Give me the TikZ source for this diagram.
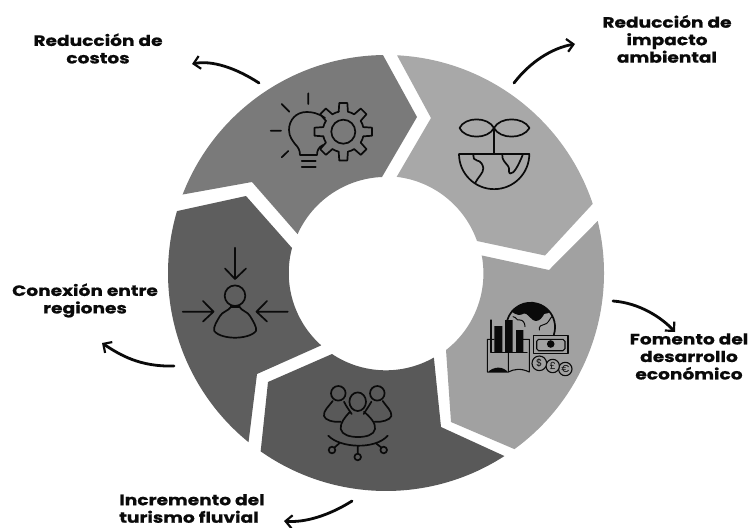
\documentclass[tikz,border=0pt]{standalone}
\usepackage{fontspec}
\setmainfont{Poppins}
\newfontfamily\lblfont{Poppins}[BoldFeatures={FakeStretch=1.24,FakeBold=0.6}]
\usetikzlibrary{arrows.meta}
\definecolor{segcost}{gray}{0.48}
\definecolor{segenv}{gray}{0.66}
\definecolor{segeco}{gray}{0.63}
\definecolor{segtur}{gray}{0.35}
\definecolor{segcon}{gray}{0.37}
\definecolor{ink}{gray}{0.04}
\tikzset{
  label text/.style={font=\lblfont\fontsize{15}{17.5}\selectfont\bfseries, text=ink, align=center, inner sep=0pt},
  pointer/.style={draw=ink, line width=2.8pt, line cap=round, -{Straight Barb[length=6.5pt,width=13pt,line width=2.2pt]}},
  icon/.style={draw=ink, line width=1.7pt, line cap=round, line join=round},
  coinglyph/.style={font=\fontsize{10}{10}\selectfont, text=ink, inner sep=0pt}
}
\begin{document}
\begin{tikzpicture}[x=1pt,y=1pt,yscale=-1]
\useasboundingbox (0,0) rectangle (751,527);
% ring segments
\fill[segcost] (386,273) ++(201.1:218) arc[start angle=201.1,end angle=269.2,radius=218] -- (417,117) -- (382,177) arc[start angle=267.6,end angle=204.2,radius=97] -- (252,182) -- cycle;
\fill[segenv] (386,273) ++(272.9:218) arc[start angle=272.9,end angle=341.5,radius=218] -- (545,255.5) -- (477,241) arc[start angle=340.6,end angle=276.6,radius=97] -- (431,118) -- cycle;
\fill[segeco] (386,273) ++(346.2:218) arc[start angle=346.2,end angle=413.9,radius=218] -- (451,422) -- (446,350) arc[start angle=52.1,end angle=-10.7,radius=97] -- (549,270) -- cycle;
\fill[segtur] (386,273) ++(57.1:218) arc[start angle=57.1,end angle=125.1,radius=218] -- (268,382) -- (332,354) arc[start angle=123.7,end angle=60.3,radius=97] -- (441,427) -- cycle;
\fill[segcon] (386,273) ++(129.1:218) arc[start angle=129.1,end angle=196.5,radius=218] -- (246,196) -- (292,248) arc[start angle=194.9,end angle=131.7,radius=97] -- (257,374) -- cycle;

% labels
\node[label text] (costos) at (98,48.5) {Reducción de\\costos};
\node[label text] (impacto) at (667,39) {Reducción de\\impacto\\ambiental};
\node[label text] (fomento) at (689,356.5) {Fomento del\\desarrollo\\económico};
\node[label text, align=left] (turismo) at (192,508.5) {Incremento del\\turismo fluvial};
\node[label text] (conexion) at (85,300.5) {Conexión entre\\regiones};

% pointer ends
\coordinate (p1s) at (259,83);   \coordinate (p1e) at (192,64);
\coordinate (p2s) at (514,83);   \coordinate (p2e) at (575,44);
\coordinate (p3s) at (613,301);  \coordinate (p3e) at (675,332);
\coordinate (p4s) at (352,501);  \coordinate (p4e) at (284,521);
\coordinate (p5s) at (174,366);  \coordinate (p5e) at (102,343);
\draw[pointer] (p1s) .. controls (236,68) and (212,60) .. (p1e);
\draw[pointer] (p2s) .. controls (530,62) and (552,48) .. (p2e);
\draw[pointer] (p3s) .. controls (640,303) and (662,318) .. (p3e);
\draw[pointer] (p4s) .. controls (330,515) and (305,523) .. (p4e);
\draw[pointer] (p5s) .. controls (140,367) and (120,355) .. (p5e);

% icon: bulb and gear
\begin{scope}[icon]
\draw (325,118) .. controls (318,113) and (312,112) .. (306.7,112) .. controls (296,112) and (289,120) .. (289,130) .. controls (289,137) and (293,141) .. (295,144) .. controls (298,147) and (300,150) .. (300,155) -- (317,155) .. controls (317,150) and (319,147) .. (323,145);
\draw (301.7,160.7) -- (315.7,160.7) (301.7,167.3) -- (315.7,167.3);
\draw (308.3,93.3) -- (308.3,104) (281.7,104) -- (289.3,111.7) (270.7,130.7) -- (281,130.7) (281.7,157.3) -- (288.3,151);
\begin{scope}[shift={(343.3,131.7)}]
\draw (0,0) circle[radius=12];
\foreach \a in {0,45,...,315}{
  \draw (\a-13:20.5) -- (\a-8:29) -- (\a+8:29) -- (\a+13:20.5) arc[start angle=\a+13,end angle=\a+32,radius=20.5];
}
\end{scope}
\end{scope}

% icon: sprout on half globe
\begin{scope}[icon]
\draw (494,128) .. controls (488,116.5) and (465,116.5) .. (459.5,128) .. controls (465,139.5) and (488,139.5) .. (494,128);
\draw (494,128) .. controls (500,116.5) and (523,116.5) .. (529.5,128) .. controls (523,139.5) and (500,139.5) .. (494,128);
\draw (494,128) -- (494,154);
\draw (459,154) -- (529.3,154) arc[start angle=0,end angle=180,radius=35.15];
\draw (473.3,155) .. controls (473,158) and (474,160) .. (477,160.5) .. controls (481,161) and (483,165) .. (483.3,168.3) .. controls (483.5,173) and (478,177) .. (475,183.3);
\draw (502.3,155) .. controls (502,160) and (505,162) .. (508,166) .. controls (510,168) and (508,173) .. (510,173.5) .. controls (514,174) and (518,166) .. (522.7,155);
\end{scope}

% icon: economy
\begin{scope}[icon]
\draw (507.3,320) arc[start angle=197,end angle=378,radius=24.4];
\fill[ink] (511.7,311.7) .. controls (518,304) and (527,303) .. (532,303) .. controls (540,303) and (546,307) .. (550,312) .. controls (546,315) and (544,312) .. (543,316) .. controls (540,321) and (536,322) .. (533,320) .. controls (529,317) and (527,313) .. (524,313.5) .. controls (520,316) and (516,315) .. (511.7,311.7) -- cycle;
\draw[line width=1pt] (513,316.7) .. controls (517,317) and (516,321) .. (520,320) .. controls (523,320) and (525,323) .. (525,326.7);
\draw[line width=1pt] (539.3,330) .. controls (539,326) and (541,325) .. (544,324.5) .. controls (548,324) and (549,320) .. (551.7,316.7);
\fill[ink] (494.3,326) rectangle (502.3,352.7) (505,320) rectangle (512.7,352.7) (516,330) rectangle (523.3,352.7);
\draw[line width=1.1pt] (491,320) -- (491,352.7) -- (527,352.7);
\draw[line width=1.1pt] (494,339.3) -- (487.3,339.3) -- (487.3,372) (508.3,352.7) -- (508.3,372) (523.3,339.3) -- (529.3,339.3) -- (529.3,372) .. controls (521,368) and (514,369) .. (508.3,372);
\fill[ink] (487.3,372.5) .. controls (494,366) and (503,366) .. (508.3,372.5) -- cycle;
\draw[fill=segeco,line width=1.1pt] (533.3,335.3) rectangle (568,353.3);
\draw[line width=1.1pt] (538.5,339.3) -- (563,339.3) -- (565,341.3) -- (565,348.7) -- (563,350.7) -- (538.5,350.7) -- (536.7,348.7) -- (536.7,341.3) -- cycle;
\fill[ink] (550.7,344) circle[radius=3.8];
\draw[line width=1.1pt,fill=segeco] (565.3,369) circle[radius=6.7];
\draw[line width=1.1pt,fill=segeco] (552.7,366) circle[radius=6.7];
\draw[line width=1.1pt,fill=segeco] (539.3,363.3) circle[radius=7.3];
\end{scope}
\node[coinglyph] (dollar) at (539.3,363.3) {\$};
\node[coinglyph] (pound) at (552.7,366) {£};
\node[coinglyph] (euro) at (565.3,369) {€};

% icon: group
\begin{scope}[icon]
\draw (357.7,401.7) ellipse[x radius=8.3,y radius=9.3];
\draw (338.3,393.3) circle[radius=7.3];
\draw (377.3,393.3) circle[radius=7.3];
\draw (350,411.7) .. controls (345,417) and (340,423) .. (340.7,429) .. controls (342,435) and (350,437) .. (358,437) .. controls (366,437) and (374,435) .. (375,429) .. controls (376,423) and (370,417) .. (364,411.7);
\draw (332.7,401) .. controls (329,406) and (323,411) .. (324,416) .. controls (325,420) and (333,422.5) .. (340.7,421.7);
\draw (344,401.7) .. controls (346,406) and (349,410) .. (351.7,414);
\draw (382.7,401) .. controls (386,406) and (392,411) .. (391.4,416) .. controls (390,420) and (382,422.5) .. (374.7,421.7);
\draw (371.4,401.7) .. controls (369,406) and (366,410) .. (363.7,414);
\draw (328.3,435.7) .. controls (340,448) and (375,450) .. (387.7,435.7);
\draw (357.7,446) -- (357.7,453.7) (339.3,443.3) -- (334.5,447.5) (376,443.3) -- (381.3,447.5);
\draw (357.7,457) circle[radius=3.3] (332,450) circle[radius=3.3] (383.7,450) circle[radius=3.3];
\end{scope}

% icon: person with arrows
\begin{scope}[icon]
\draw (235,295.7) circle[radius=10.3];
\draw (231,305.5) -- (231,307) .. controls (228,311) and (222,312) .. (220,316) .. controls (217,321) and (213,327) .. (214.3,331) .. controls (218,336) and (228,337.7) .. (235,337.7) .. controls (242,337.7) and (252,336) .. (256,331) .. controls (257,327) and (253,321) .. (250,316) .. controls (248,312) and (242,311) .. (239.5,307) -- (239.5,305.5);
\draw (231,307) -- (239.5,307);
\draw (235,247.7) -- (235,279) (225,268.5) -- (235,279) -- (246,268.5);
\draw (182.7,311.7) -- (213.5,311.7) (203,301) -- (213.5,311.7) -- (203,321.5);
\draw (287.7,311.7) -- (256.5,311.7) (267,301) -- (256.5,311.7) -- (267,321.5);
\end{scope}
\end{tikzpicture}
\end{document}
